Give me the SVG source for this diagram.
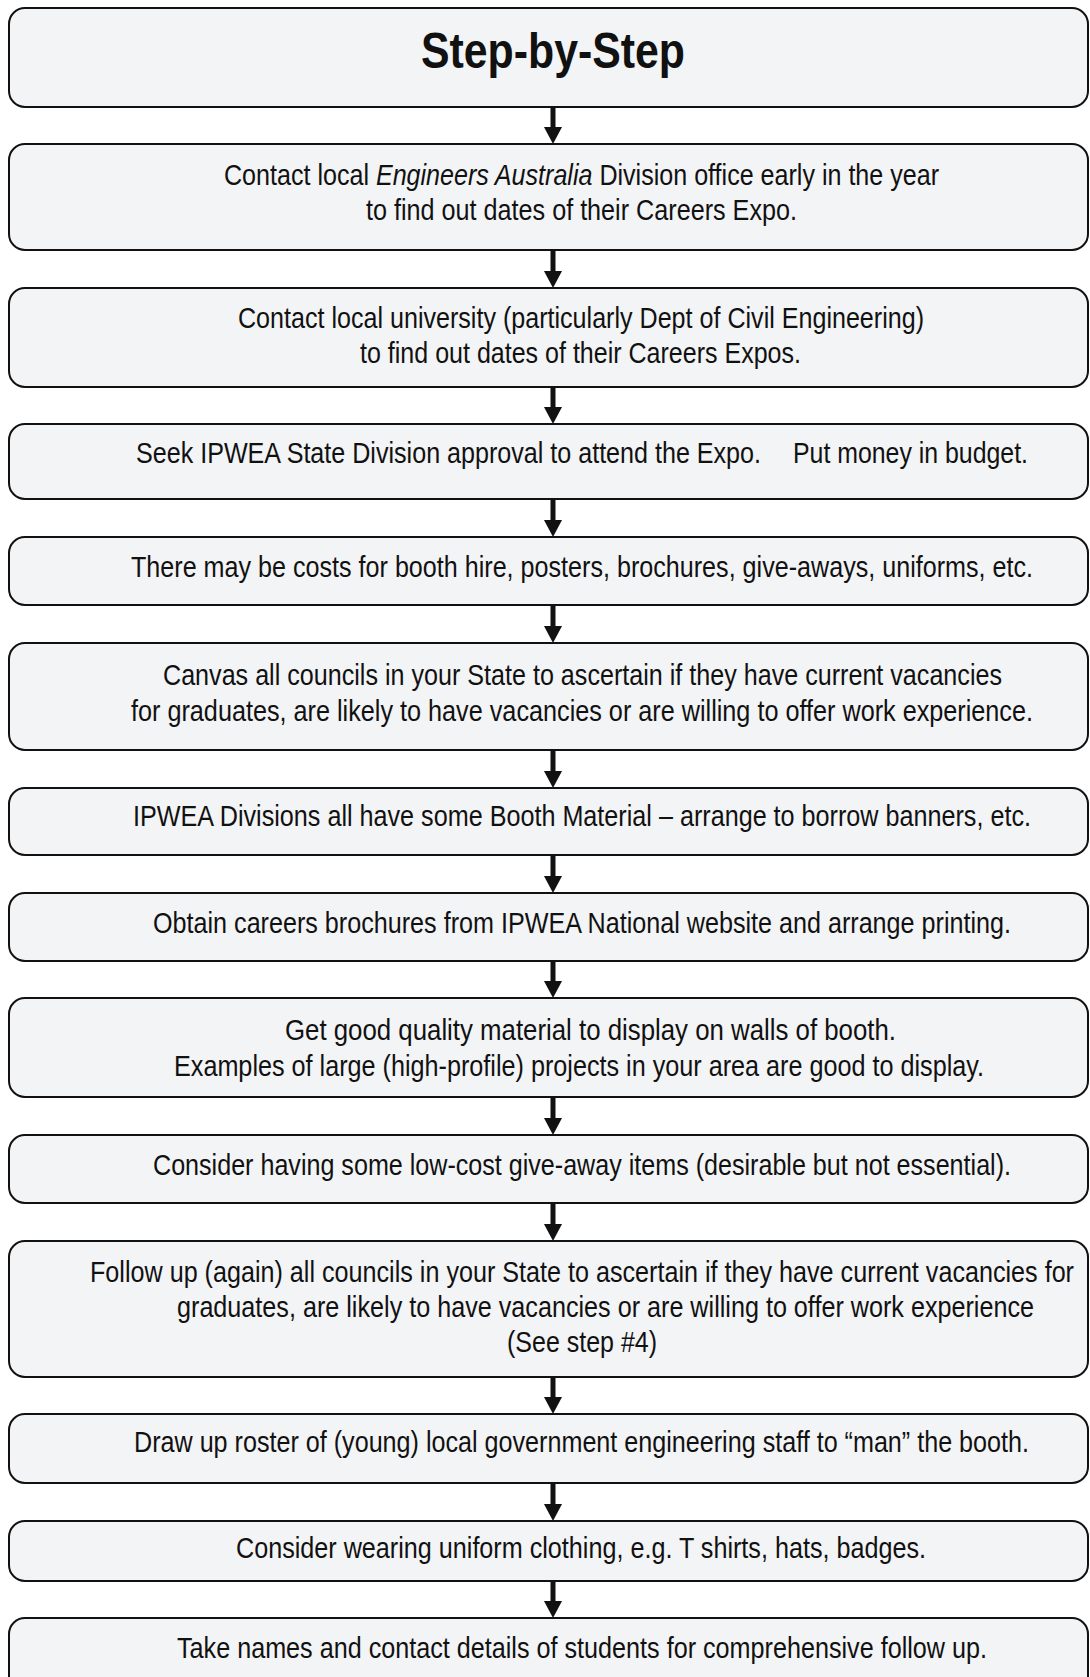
<svg xmlns="http://www.w3.org/2000/svg" width="1090" height="1677" viewBox="0 0 1090 1677">
<style>
.box{fill:#f3f4f6;stroke:#111;stroke-width:2}
.t{font-family:"Liberation Sans",Arial,sans-serif;font-size:30px;fill:#111}
.title{font-family:"Liberation Sans",Arial,sans-serif;font-size:50px;font-weight:bold;fill:#111}
.conn{stroke:#111;stroke-width:5;fill:none}
</style>
<defs>
<marker id="ah" viewBox="0 0 17 18" refX="0" refY="9" markerWidth="17" markerHeight="18" markerUnits="userSpaceOnUse" orient="auto">
<path d="M0,0 L17,9 L0,18 z" fill="#111"/>
</marker>
</defs>
<rect width="1090" height="1677" fill="#ffffff"/>
<g id="connectors">
<line class="conn" x1="553" y1="107" x2="553" y2="127" marker-end="url(#ah)"/>
<line class="conn" x1="553" y1="250" x2="553" y2="271" marker-end="url(#ah)"/>
<line class="conn" x1="553" y1="387" x2="553" y2="407" marker-end="url(#ah)"/>
<line class="conn" x1="553" y1="499" x2="553" y2="520" marker-end="url(#ah)"/>
<line class="conn" x1="553" y1="605" x2="553" y2="626" marker-end="url(#ah)"/>
<line class="conn" x1="553" y1="750" x2="553" y2="771" marker-end="url(#ah)"/>
<line class="conn" x1="553" y1="855" x2="553" y2="876" marker-end="url(#ah)"/>
<line class="conn" x1="553" y1="961" x2="553" y2="981" marker-end="url(#ah)"/>
<line class="conn" x1="553" y1="1097" x2="553" y2="1118" marker-end="url(#ah)"/>
<line class="conn" x1="553" y1="1203" x2="553" y2="1224" marker-end="url(#ah)"/>
<line class="conn" x1="553" y1="1377" x2="553" y2="1397" marker-end="url(#ah)"/>
<line class="conn" x1="553" y1="1483" x2="553" y2="1504" marker-end="url(#ah)"/>
<line class="conn" x1="553" y1="1581" x2="553" y2="1601" marker-end="url(#ah)"/>
</g>
<g id="n1"><rect class="box" x="9" y="8" width="1079" height="99" rx="16"/>
<text class="title" x="421" y="68" textLength="264" lengthAdjust="spacingAndGlyphs">Step-by-Step</text></g>
<g id="n2"><rect class="box" x="9" y="144" width="1079" height="106" rx="16"/>
<text class="t" x="224" y="185" textLength="715" lengthAdjust="spacingAndGlyphs">Contact local <tspan font-style="italic">Engineers Australia</tspan> Division office early in the year</text>
<text class="t" x="366" y="220" textLength="431" lengthAdjust="spacingAndGlyphs">to find out dates of their Careers Expo.</text></g>
<g id="n3"><rect class="box" x="9" y="288" width="1079" height="99" rx="16"/>
<text class="t" x="238" y="328" textLength="686" lengthAdjust="spacingAndGlyphs">Contact local university (particularly Dept of Civil Engineering)</text>
<text class="t" x="360" y="363" textLength="441" lengthAdjust="spacingAndGlyphs">to find out dates of their Careers Expos.</text></g>
<g id="n4"><rect class="box" x="9" y="424" width="1079" height="75" rx="16"/>
<text class="t" y="463"><tspan x="136" textLength="625" lengthAdjust="spacingAndGlyphs">Seek IPWEA State Division approval to attend the Expo.</tspan><tspan x="793" textLength="235" lengthAdjust="spacingAndGlyphs">Put money in budget.</tspan></text></g>
<g id="n5"><rect class="box" x="9" y="537" width="1079" height="68" rx="16"/>
<text class="t" x="131" y="577" textLength="902" lengthAdjust="spacingAndGlyphs">There may be costs for booth hire, posters, brochures, give-aways, uniforms, etc.</text></g>
<g id="n6"><rect class="box" x="9" y="643" width="1079" height="107" rx="16"/>
<text class="t" x="163" y="685" textLength="839" lengthAdjust="spacingAndGlyphs">Canvas all councils in your State to ascertain if they have current vacancies</text>
<text class="t" x="131" y="721" textLength="902" lengthAdjust="spacingAndGlyphs">for graduates, are likely to have vacancies or are willing to offer work experience.</text></g>
<g id="n7"><rect class="box" x="9" y="788" width="1079" height="67" rx="16"/>
<text class="t" x="133" y="826" textLength="898" lengthAdjust="spacingAndGlyphs">IPWEA Divisions all have some Booth Material – arrange to borrow banners, etc.</text></g>
<g id="n8"><rect class="box" x="9" y="893" width="1079" height="68" rx="16"/>
<text class="t" x="153" y="933" textLength="858" lengthAdjust="spacingAndGlyphs">Obtain careers brochures from IPWEA National website and arrange printing.</text></g>
<g id="n9"><rect class="box" x="9" y="998" width="1079" height="99" rx="16"/>
<text class="t" x="285" y="1040" textLength="611" lengthAdjust="spacingAndGlyphs">Get good quality material to display on walls of booth.</text>
<text class="t" x="174" y="1076" textLength="810" lengthAdjust="spacingAndGlyphs">Examples of large (high-profile) projects in your area are good to display.</text></g>
<g id="n10"><rect class="box" x="9" y="1135" width="1079" height="68" rx="16"/>
<text class="t" x="153" y="1175" textLength="858" lengthAdjust="spacingAndGlyphs">Consider having some low-cost give-away items (desirable but not essential).</text></g>
<g id="n11"><rect class="box" x="9" y="1241" width="1079" height="136" rx="16"/>
<text class="t" x="90" y="1282" textLength="984" lengthAdjust="spacingAndGlyphs">Follow up (again) all councils in your State to ascertain if they have current vacancies for</text>
<text class="t" x="177" y="1317" textLength="857" lengthAdjust="spacingAndGlyphs">graduates, are likely to have vacancies or are willing to offer work experience</text>
<text class="t" x="507" y="1352" textLength="150" lengthAdjust="spacingAndGlyphs">(See step #4)</text></g>
<g id="n12"><rect class="box" x="9" y="1414" width="1079" height="69" rx="16"/>
<text class="t" x="134" y="1452" textLength="895" lengthAdjust="spacingAndGlyphs">Draw up roster of (young) local government engineering staff to “man” the booth.</text></g>
<g id="n13"><rect class="box" x="9" y="1521" width="1079" height="60" rx="16"/>
<text class="t" x="236" y="1558" textLength="690" lengthAdjust="spacingAndGlyphs">Consider wearing uniform clothing, e.g. T shirts, hats, badges.</text></g>
<g id="n14"><rect class="box" x="9" y="1618" width="1079" height="90" rx="16"/>
<text class="t" x="177" y="1658" textLength="810" lengthAdjust="spacingAndGlyphs">Take names and contact details of students for comprehensive follow up.</text></g>
</svg>
